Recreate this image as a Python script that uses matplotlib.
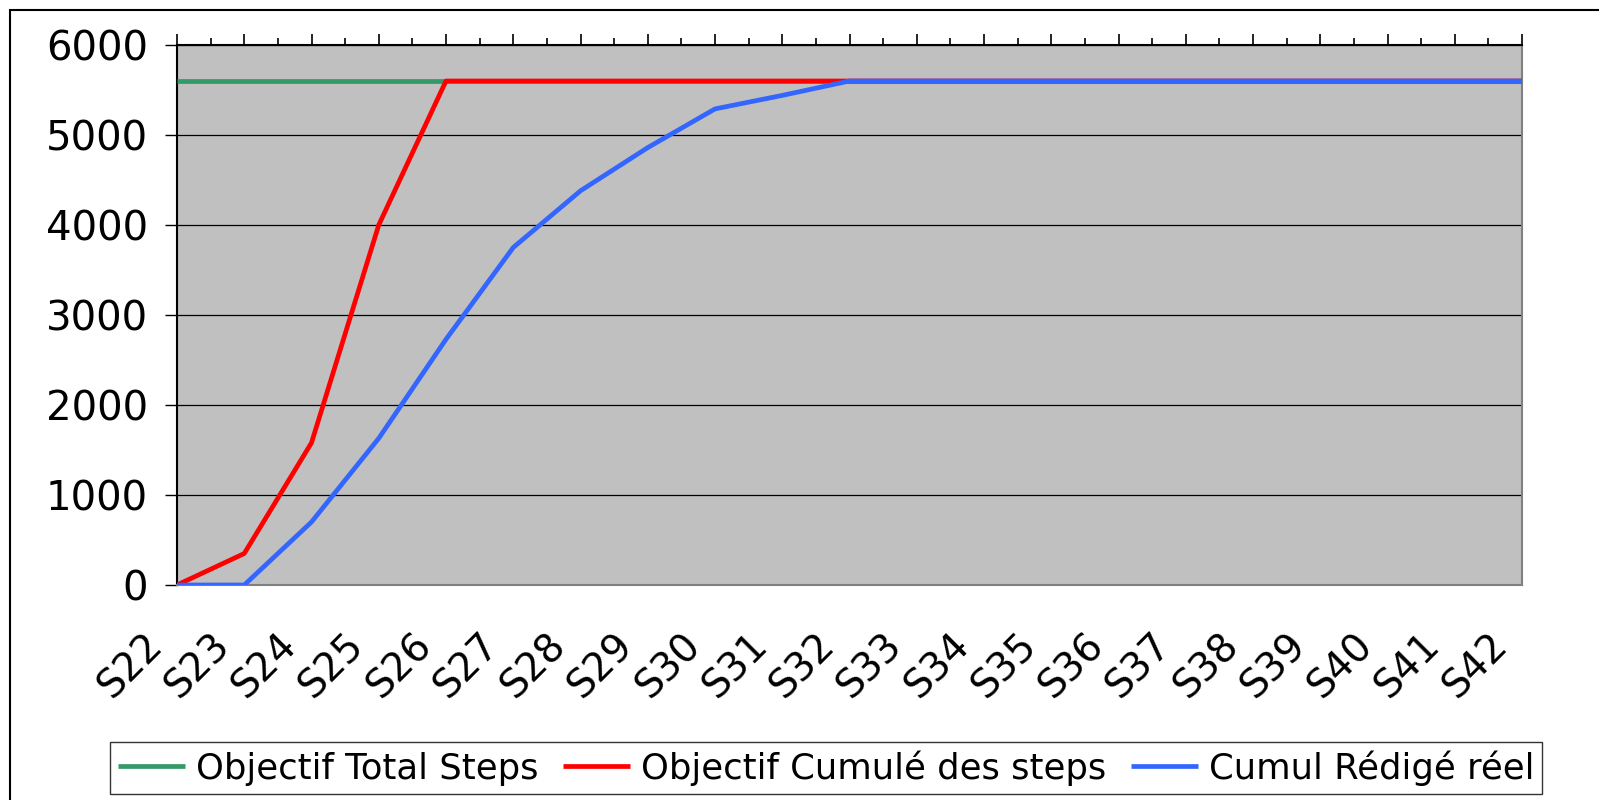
#!/usr/bin/env python3
"""Courbe d'avancement : objectif vs cumul rédigé par semaine."""

import matplotlib

matplotlib.use("Agg")
import matplotlib.pyplot as plt
from matplotlib.patches import Rectangle
from matplotlib.ticker import MultipleLocator
from matplotlib.transforms import ScaledTranslation

weeks = [f"S{n}" for n in range(22, 43)]

objectif_total = [5600] * 21
objectif_cumule = [0, 350, 1580, 4000, 5600, 5600, 5600, 5600, 5600, 5600, 5600,
                   5600, 5600, 5600, 5600, 5600, 5600, 5600, 5600, 5600, 5600]
cumul_reel = [0, 0, 700, 1630, 2730, 3750, 4380, 4860, 5290, 5440, 5600,
              5600, 5600, 5600, 5600, 5600, 5600, 5600, 5600, 5600, 5600]

series_labels = ["Objectif Total Steps", "Objectif Cumulé des steps", "Cumul Rédigé réel"]
colors = ["#339966", "#FF0000", "#3366FF"]

FS_YTICK = 29
FS_XTICK = 28
FS_LEG = 25.5

fig = plt.figure(figsize=(15.99, 8.0), dpi=100)
ax = fig.add_axes([177 / 1599, 1 - 585 / 800, (1522 - 177) / 1599, (585 - 45) / 800])
ax.set_facecolor("#C0C0C0")

x = list(range(len(weeks)))
for i, (vals, lab, col) in enumerate(zip([objectif_total, objectif_cumule, cumul_reel], series_labels, colors)):
    ax.plot(x, vals, color=col, lw=3.4, label=lab, zorder=3 + i, solid_capstyle="butt")

ax.set_xlim(0, len(weeks) - 1)
ax.set_ylim(0, 6000)
ax.yaxis.set_major_locator(MultipleLocator(1000))
ax.grid(axis="y", color="black", lw=0.9, zorder=1)
ax.set_axisbelow(True)

ax.set_xticks(x)
ax.set_xticks([v + 0.5 for v in x[:-1]], minor=True)
ax.set_xticklabels(weeks, rotation=45, ha="right", va="top", rotation_mode="anchor", fontsize=FS_XTICK)
ax.tick_params(axis="x", which="both", bottom=False, top=True, labelbottom=True,
               labeltop=False, direction="out", pad=0, color="black")
ax.tick_params(axis="x", which="major", length=8, width=1.2)
ax.tick_params(axis="x", which="minor", length=5, width=1.2)
ax.tick_params(axis="y", direction="out", length=9, width=1.0, pad=12, labelsize=FS_YTICK)

offset = ScaledTranslation(-34 / 100, -30 / 100, fig.dpi_scale_trans)
for lbl in ax.get_xticklabels():
    lbl.set_transform(lbl.get_transform() + offset)

ax.spines["top"].set_color("black")
ax.spines["left"].set_color("black")
ax.spines["bottom"].set_color("#808080")
ax.spines["right"].set_color("#808080")
for s in ax.spines.values():
    s.set_linewidth(1.5)

leg = ax.legend(loc="center", bbox_to_anchor=(826 / 1599, 1 - 768 / 800),
                bbox_transform=fig.transFigure, ncol=3, fontsize=FS_LEG, frameon=True,
                fancybox=False, handlelength=1.9, handletextpad=0.3, columnspacing=0.7,
                borderpad=0.22, borderaxespad=0)
leg.get_frame().set_edgecolor("black")
leg.get_frame().set_linewidth(1.0)

fig.patches.append(Rectangle((10 / 1599, -0.1), 1.1, 1.1 - 10 / 800, transform=fig.transFigure,
                             fill=False, edgecolor="black", lw=1.5))

fig.savefig("out.png", dpi=100)
